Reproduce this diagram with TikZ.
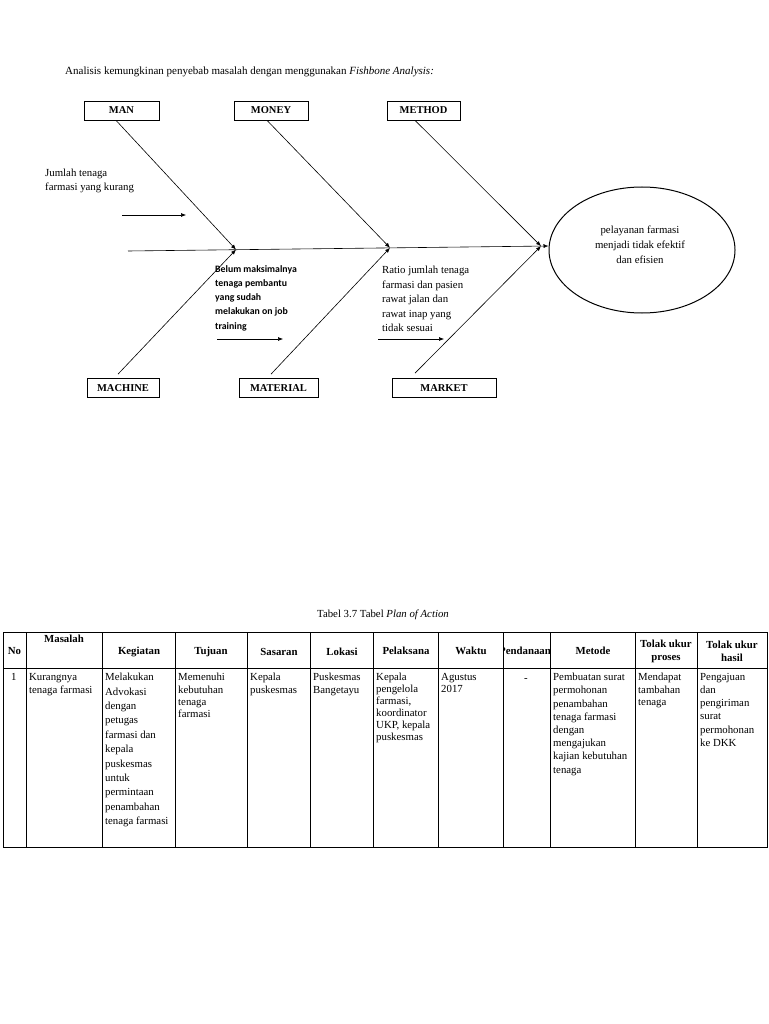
\documentclass[tikz,border=0pt]{standalone}
\usepackage{fontspec}
\setmainfont{Liberation Serif}
\newfontfamily\calib{Carlito}
\usetikzlibrary{shapes.geometric,arrows.meta,calc}
\tikzset{
  catbox/.style={draw, line width=0.7pt, font=\bfseries\fontsize{10.5}{11}\selectfont, minimum height=19pt, inner sep=0pt},
  bone/.style={line width=0.6pt, -{Latex[length=5pt,width=4pt]}},
  txt/.style={font=\fontsize{10.8}{14}\selectfont, align=left, inner sep=0pt},
  tabline/.style={line width=0.8pt},
  hd/.style={font=\bfseries\fontsize{10.8}{13}\selectfont, align=center, inner sep=0pt},
  cell/.style={anchor=north west, align=left, inner sep=0pt},
}
\begin{document}
\begin{tikzpicture}[x=1pt,y=-1pt]
\useasboundingbox (0,0) rectangle (768,1024);
\node[txt, anchor=west, font=\fontsize{11}{14}\selectfont] (title) at (65,71.5) {Analisis kemungkinan penyebab masalah dengan menggunakan \textit{Fishbone Analysis:}};

% category boxes
\node[catbox, minimum width=75pt] (man) at (121.5,110.5) {MAN};
\node[catbox, minimum width=74pt] (money) at (271,110.5) {MONEY};
\node[catbox, minimum width=73pt] (method) at (423.5,110.5) {METHOD};
\node[catbox, minimum width=72pt] (machine) at (123,388) {MACHINE};
\node[catbox, minimum width=79pt] (material) at (278.5,388) {MATERIAL};
\node[catbox, minimum width=104pt] (market) at (444,388) {MARKET};

% effect
\node[draw, ellipse, line width=1pt, minimum width=186pt, minimum height=126pt] (effect) at (642,250) {};
\node[txt, align=center, font=\fontsize{10.8}{15}\selectfont] (efftext) at (640,245) {pelayanan farmasi\\menjadi tidak efektif\\dan efisien};

% spine and joints
\coordinate (tail) at (128,251);
\coordinate (j1) at (236,249.6);
\coordinate (j2) at (390,247.8);
\coordinate (j3) at (541,246.1);
\draw[bone] (tail) -- ([yshift=4pt]effect.west);

% bones
\draw[bone] ([xshift=-5.5pt]man.south) -- (j1);
\draw[bone] ([xshift=-4pt]money.south) -- (j2);
\draw[bone] ([xshift=-8.5pt]method.south) -- (j3);
\draw[bone] ([xshift=-5pt,yshift=4pt]machine.north) -- (j1);
\draw[bone] ([xshift=-7.5pt,yshift=4pt]material.north) -- (j2);
\draw[bone] ([xshift=-29pt,yshift=5pt]market.north) -- (j3);

% causes
\node[txt, anchor=north west] (c1) at (45,169) {Jumlah tenaga\\farmasi yang kurang};
\coordinate (a1s) at (122,215); \coordinate (a1e) at (186,215);
\draw[bone] (a1s) -- (a1e);

\node[txt, anchor=north west, font=\calib\bfseries\fontsize{9.8}{14.3}\selectfont] (c2) at (215,265) {Belum maksimalnya\\tenaga pembantu\\yang sudah\\melakukan on job\\training};
\coordinate (a2s) at (217,339); \coordinate (a2e) at (283,339);
\draw[bone] (a2s) -- (a2e);

\node[txt, anchor=north west, font=\fontsize{10.8}{14.5}\selectfont] (c3) at (382,266) {Ratio jumlah tenaga\\farmasi dan pasien\\rawat jalan dan\\rawat inap yang\\tidak sesuai};
\coordinate (a3s) at (378,339); \coordinate (a3e) at (444,339);
\draw[bone] (a3s) -- (a3e);

% table caption
\node[txt] (cap) at (383,615) {Tabel 3.7 Tabel \textit{Plan of Action}};

% table grid
\draw[tabline] (3,632) rectangle (767,847);
\draw[tabline] (3,668) -- (767,668);
\foreach \cx in {26,102,175,247,310,373,438,503,550,635,697}
  \draw[tabline] (\cx,632) -- (\cx,847);

% header
\node[hd] (hno) at (14.5,651) {No};
\node[hd] (hmas) at (64,639) {Masalah};
\node[hd] (hkeg) at (139,652) {Kegiatan};
\node[hd] (htuj) at (211,652) {Tujuan};
\node[hd] (hsas) at (279,652) {Sasaran};
\node[hd] (hlok) at (342,652) {Lokasi};
\node[hd] (hpel) at (406,651) {Pelaksana};
\node[hd] (hwak) at (471,651) {Waktu};
\begin{scope}
  \clip (503.5,633) rectangle (549.5,667);
  \node[hd] (hpen) at (525,651) {Pendanaan};
\end{scope}
\node[hd] (hmet) at (593,651) {Metode};
\node[hd] (hpro) at (666,651) {Tolak ukur\\proses};
\node[hd] (hhas) at (732,651) {Tolak ukur\\hasil};

% body
\node[cell, font=\fontsize{10.8}{12}\selectfont] (bno) at (11,673) {1};
\node[cell, font=\fontsize{10.8}{13.3}\selectfont] (bmas) at (29,673) {Kurangnya\\tenaga farmasi};
\node[cell, font=\fontsize{10.8}{14.4}\selectfont] (bkeg) at (105,673) {Melakukan\\Advokasi\\dengan\\petugas\\farmasi dan\\kepala\\puskesmas\\untuk\\permintaan\\penambahan\\tenaga farmasi};
\node[cell, font=\fontsize{10.8}{12.3}\selectfont] (btuj) at (178,673) {Memenuhi\\kebutuhan\\tenaga\\farmasi};
\node[cell, font=\fontsize{10.8}{12.3}\selectfont] (bsas) at (250,673) {Kepala\\puskesmas};
\node[cell, font=\fontsize{10.8}{12.3}\selectfont] (blok) at (313,673) {Puskesmas\\Bangetayu};
\node[cell, font=\fontsize{10.8}{12}\selectfont] (bpel) at (376,673) {Kepala\\pengelola\\farmasi,\\koordinator\\UKP, kepala\\puskesmas};
\node[cell, font=\fontsize{10.8}{12.3}\selectfont] (bwak) at (441,673) {Agustus\\2017};
\node[anchor=base, inner sep=0pt, font=\fontsize{10.8}{12}\selectfont] (bpen) at (526,681) {-};
\node[cell, font=\fontsize{10.8}{13.2}\selectfont] (bmet) at (553,673) {Pembuatan surat\\permohonan\\penambahan\\tenaga farmasi\\dengan\\mengajukan\\kajian kebutuhan\\tenaga};
\node[cell, font=\fontsize{10.8}{12.3}\selectfont] (bpro) at (638,673) {Mendapat\\tambahan\\tenaga};
\node[cell, font=\fontsize{10.8}{13.2}\selectfont] (bhas) at (700,673) {Pengajuan\\dan\\pengiriman\\surat\\permohonan\\ke DKK};
\end{tikzpicture}
\end{document}
